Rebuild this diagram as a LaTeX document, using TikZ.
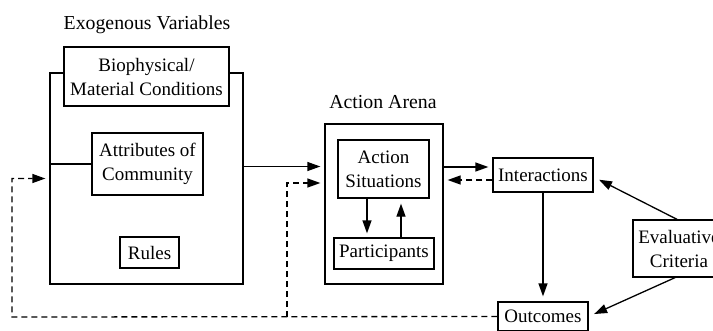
\documentclass[tikz,border=0pt]{standalone}
\usepackage{fontspec}
\setmainfont{Liberation Serif}
\usetikzlibrary{arrows.meta}
\begin{document}
\begin{tikzpicture}[x=1pt,y=-1pt,
  box/.style={draw,line width=1.3pt,inner sep=0pt,fill=white,align=center,font=\fontsize{19}{24}\selectfont},
  ttl/.style={font=\fontsize{19.8}{24}\selectfont,inner sep=0pt},
  arr/.style={line width=1.3pt,-{Triangle[length=13pt,width=9pt]}},
  dasharr/.style={arr,dash pattern=on 6pt off 4pt},
  ln/.style={line width=1.3pt}]
\useasboundingbox (0,0) rectangle (713,330);
% exogenous variables
\node[ttl] (exot) at (147,25) {Exogenous Variables};
\node[box,minimum width=193pt,minimum height=211pt] (exo) at (146.5,178.5) {};
\node[box,minimum width=165pt,minimum height=59pt] (bio) at (146.5,76.5) {Biophysical/\\Material Conditions};
\node[box,minimum width=111pt,minimum height=62pt] (attr) at (147.5,164) {Attributes of\\Community};
\node[box,minimum width=59pt,minimum height=31pt] (rules) at (149.5,252.5) {Rules};
% action arena
\node[ttl] (arenat) at (383,102) {Action Arena};
\node[box,minimum width=118pt,minimum height=160pt] (arena) at (384,204) {};
\node[box,minimum width=91pt,minimum height=58pt] (sit) at (383.5,169) {Action\\Situations};
\node[box,minimum width=100pt,minimum height=31pt] (part) at (384,253.5) {Participants};
% right side
\node[box,minimum width=100pt,minimum height=34pt] (inter) at (543,175) {Interactions};
\node[box,minimum width=90pt,minimum height=29pt] (out) at (543,316.5) {Outcomes};
\node[box,minimum width=92pt,minimum height=57pt] (eval) at (679,248.5) {Evaluative\\Criteria};
% coordinates for feedback loops
\coordinate (c1) at (12,317);
\coordinate (c2) at (287,317);
\coordinate (c3) at (287,183);
% connectors
\draw[ln] (attr.west -| exo.west) -- (attr.west);
\draw[arr,shorten >=4pt] ([yshift=12pt]exo.east) -- ([yshift=12pt]exo.east -| arena.west);
\draw[dasharr,shorten >=4pt] (out.west) -- (c1) |- (exo.west);
\draw[dasharr,shorten >=4pt] (c2) -- (c3) -- (c3 -| arena.west);
\draw[arr,shorten >=4pt] ([yshift=37pt]arena.east) -- ([yshift=37pt]arena.east -| inter.west);
\draw[dasharr,shorten >=4pt] ([yshift=-5pt]inter.west) -- ([yshift=-5pt]inter.west -| arena.east);
\draw[arr,shorten >=4pt] ([xshift=-16.5pt]sit.south) -- ([xshift=-16.5pt]sit.south |- part.north);
\draw[arr,shorten >=5pt] ([xshift=17pt]part.north) -- ([xshift=17pt]part.north |- sit.south);
\draw[arr,shorten >=5pt] (inter.south) -- (out.north);
\draw[arr,shorten >=6pt] ([xshift=-2pt]eval.north) -- ([yshift=-2pt]inter.east);
\draw[arr,shorten >=6pt] ([xshift=-4pt]eval.south) -- (out.east);
\end{tikzpicture}
\end{document}
